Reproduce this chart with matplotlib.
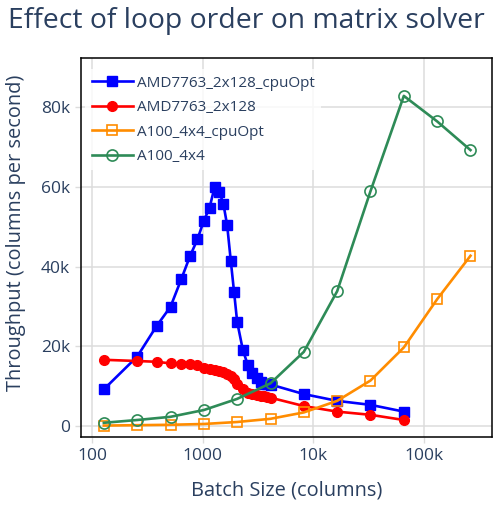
import numpy as np
import matplotlib.pyplot as plt
from matplotlib.ticker import FixedLocator, NullLocator

plt.rcParams['font.family'] = ['Open Sans', 'DejaVu Sans']

# batch sizes (columns)
cpu_x = [128, 256, 384, 512, 640, 768, 896, 1024, 1152, 1280, 1408, 1536, 1664,
         1792, 1920, 2048, 2304, 2560, 2816, 3072, 3328, 3584, 3840, 4096,
         8192, 16384, 32768, 65536]
gpu_x = [128, 256, 512, 1024, 2048, 4096, 8192, 16384, 32768, 65536, 131072, 262144]

# throughput, thousands of columns per second
amd_opt_y = [9.2, 17.4, 25.1, 29.9, 36.8, 42.6, 46.8, 51.5, 54.7, 59.9, 58.8, 55.8, 50.3,
             41.5, 33.6, 26.1, 19.1, 15.2, 13.4, 12.0, 11.1, 10.6, 10.5, 10.4,
             8.0, 6.3, 5.3, 3.6]
amd_y = [16.6, 16.3, 16.1, 15.7, 15.5, 15.5, 15.4, 14.5, 14.3, 14.1, 13.8, 13.5, 13.0,
         12.5, 11.7, 10.5, 9.2, 8.3, 8.0, 7.7, 7.5, 7.4, 7.2, 7.1,
         5.0, 3.6, 2.8, 1.5]
a100_opt_y = [0.1, 0.2, 0.3, 0.5, 1.0, 1.8, 3.4, 6.3, 11.4, 19.7, 31.8, 42.7]
a100_y = [0.8, 1.5, 2.3, 4.0, 6.8, 10.7, 18.6, 33.8, 58.9, 82.8, 76.4, 69.2]

names = ['AMD7763_2x128_cpuOpt', 'AMD7763_2x128', 'A100_4x4_cpuOpt', 'A100_4x4']

x_ticks = [100, 1000, 10000, 100000]
x_tick_labels = ['100', '1000', '10k', '100k']
y_ticks = [0, 20000, 40000, 60000, 80000]
y_tick_labels = ['0', '20k', '40k', '60k', '80k']

txt = '#2a3f5f'
grid = '#dcdcdc'

fig = plt.figure(figsize=(5.0, 5.08), dpi=100)
ax = fig.add_axes([0.162, 0.1398, 0.822, 0.746])

ax.set_xscale('log')
ax.set_xlim(79.6, 4.1e5)
ax.set_ylim(-2760, 92300)

ax.plot(cpu_x, np.array(amd_opt_y) * 1000, color='#0000ff', lw=1.9, marker='s',
        ms=7.2, zorder=3, label=names[0])
ax.plot(cpu_x, np.array(amd_y) * 1000, color='#ff0000', lw=1.9, marker='o',
        ms=7.0, zorder=4, label=names[1])
ax.plot(gpu_x, np.array(a100_opt_y) * 1000, color='#ff8c00', lw=1.9, marker='s',
        ms=7.8, mfc='none', mew=1.2, zorder=5, label=names[2])
ax.plot(gpu_x, np.array(a100_y) * 1000, color='#2e8b57', lw=1.9, marker='o',
        ms=8.0, mfc='none', mew=1.2, zorder=6, label=names[3])

ax.xaxis.set_major_locator(FixedLocator(x_ticks))
ax.xaxis.set_minor_locator(NullLocator())
ax.set_xticklabels(x_tick_labels)
ax.set_yticks(y_ticks)
ax.set_yticklabels(y_tick_labels)
ax.tick_params(axis='both', which='major', length=4, width=1, color=grid,
               labelsize=12.5, labelcolor=txt, pad=4)
ax.grid(True, color=grid, lw=1.1)
ax.set_axisbelow(True)
for s in ax.spines.values():
    s.set_color('black')
    s.set_linewidth(1.1)

ax.set_xlabel('Batch Size (columns)', fontsize=14.4, color=txt, labelpad=12)
ax.set_ylabel('Throughput (columns per second)', fontsize=14.4, color=txt)
ax.yaxis.set_label_coords(-0.135, 0.538)
fig.text(0.016, 0.945, 'Effect of loop order on matrix solver', fontsize=20.4,
         color=txt, va='baseline')

leg = ax.legend(loc='upper left', bbox_to_anchor=(-0.017, 1.0),
                fontsize=11, frameon=True, framealpha=0.8, edgecolor='none',
                handlelength=2.7, handletextpad=0.3, labelspacing=0.62,
                borderaxespad=0.75)
for t in leg.get_texts():
    t.set_color(txt)

fig.savefig('out.png', dpi=100)
